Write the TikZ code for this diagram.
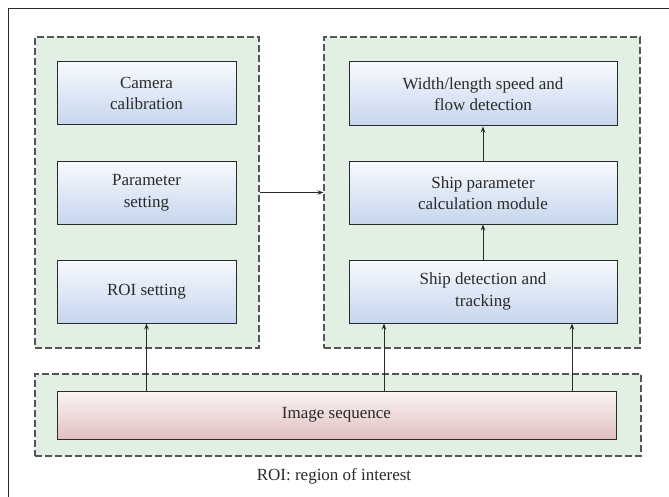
\documentclass[tikz,border=0pt]{standalone}
\usepackage{fontspec}
\setmainfont{Liberation Serif}
\usetikzlibrary{arrows.meta,calc}
\definecolor{grpfill}{HTML}{E2F0E4}
\definecolor{grpdraw}{HTML}{555555}
\definecolor{bluetop}{HTML}{F7F9FD}
\definecolor{bluebot}{HTML}{C6D6EE}
\definecolor{redtop}{HTML}{FBF5F5}
\definecolor{redbot}{HTML}{E2BFBF}
\definecolor{txt}{HTML}{2A2A2A}
\tikzset{
  grp/.style={draw=grpdraw,fill=grpfill,line width=1.1pt,dash pattern=on 7pt off 3pt,inner sep=0pt},
  bluebox/.style={draw=txt,line width=1pt,top color=bluetop,bottom color=bluebot,inner sep=0pt,align=center,text=txt,font=\fontsize{17}{21.5}\selectfont},
  redbox/.style={draw=txt,line width=1pt,top color=redtop,bottom color=redbot,inner sep=0pt,align=center,text=txt,font=\fontsize{17}{21.5}\selectfont},
  arr/.style={draw=txt,line width=0.9pt,-{Stealth[length=6pt,width=4.5pt]}},
}
\begin{document}
\begin{tikzpicture}[x=1pt,y=-1pt]
\useasboundingbox (0,0) rectangle (669,497);
\fill[white] (0,0) rectangle (669,497);
% outer frame (left and top edges)
\draw[draw=txt,line width=1pt] (8,497) -- (8,9) -- (669,9);
% groups
\node[grp,minimum width=224pt,minimum height=311pt] (gL) at (147,192.5) {};
\node[grp,minimum width=316pt,minimum height=311pt] (gR) at (482,192.5) {};
\node[grp,minimum width=606pt,minimum height=82pt] (gB) at (338,415) {};
% left boxes
\node[bluebox,minimum width=179pt,minimum height=63pt] (cam) at (146.5,93.5) {Camera\\calibration};
\node[bluebox,minimum width=179pt,minimum height=62pt] (par) at (146.5,193) {Parameter\\setting};
\node[bluebox,minimum width=179pt,minimum height=63pt] (roi) at (146.5,291.5) {ROI setting};
% right boxes
\node[bluebox,minimum width=268pt,minimum height=64pt] (wid) at (483,94) {Width/length speed and\\flow detection};
\node[bluebox,minimum width=268pt,minimum height=62pt] (spc) at (483,193) {Ship parameter\\calculation module};
\node[bluebox,minimum width=268pt,minimum height=63pt] (sdt) at (483,291.5) {Ship detection and\\tracking};
% image sequence
\node[redbox,minimum width=559pt,minimum height=48pt] (img) at (336.5,415) {Image sequence};
% caption
\node[text=txt,font=\fontsize{17}{21.5}\selectfont] (cap) at (334,476) {ROI: region of interest};
% connectors
\coordinate (c1) at (384,0);
\coordinate (c2) at (572,0);
\draw[arr] (gL.east) -- (gR.west);
\draw[arr] (img.north -| roi.south) -- (roi.south);
\draw[arr] (img.north -| c1) -- (sdt.south -| c1);
\draw[arr] (img.north -| c2) -- (sdt.south -| c2);
\draw[arr] (sdt.north) -- (spc.south);
\draw[arr] (spc.north) -- (wid.south);
\end{tikzpicture}
\end{document}
